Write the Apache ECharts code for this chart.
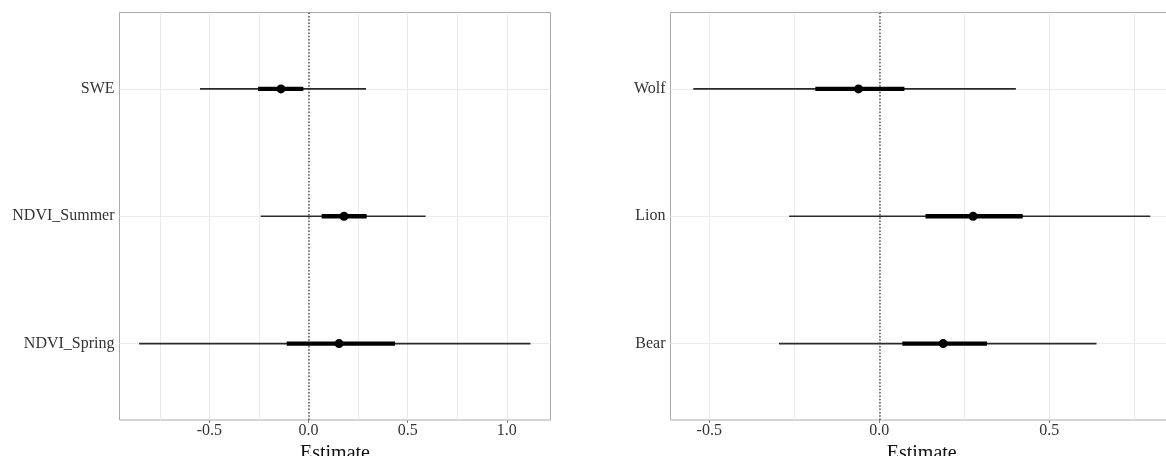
<!DOCTYPE html>
<html>
<head>
<meta charset="utf-8">
<script src="https://cdn.jsdelivr.net/npm/echarts@6/dist/echarts.min.js"></script>
<style>html,body{margin:0;padding:0;background:#fff;}#chart{width:1166px;height:456px;}</style>
</head>
<body>
<div id="chart"></div>
<script>
// Left panel (categories bottom -> top)
const leftCats = ['NDVI_Spring', 'NDVI_Summer', 'SWE'];
const leftEst  = [0.154, 0.179, -0.139];
const leftLo   = [-0.854, -0.241, -0.547];
const leftHi   = [1.119, 0.590, 0.290];
const leftLo50 = [-0.110, 0.066, -0.254];
const leftHi50 = [0.436, 0.293, -0.026];
const leftTicks = [-0.5, 0.0, 0.5, 1.0];
const leftMinor = [-0.75, -0.25, 0.25, 0.75];

// Right panel (categories bottom -> top)
const rightCats = ['Bear', 'Lion', 'Wolf'];
const rightEst  = [0.188, 0.276, -0.061];
const rightLo   = [-0.295, -0.265, -0.547];
const rightHi   = [0.639, 0.797, 0.402];
const rightLo50 = [0.068, 0.136, -0.188];
const rightHi50 = [0.317, 0.422, 0.074];
const rightTicks = [-0.5, 0.0, 0.5];
const rightMinor = [-0.25, 0.25, 0.75];

const FONT = 'Liberation Serif';

function rows(cats, est, lo, hi, lo50, hi50) {
  return cats.map((c, i) => [i + 1, lo[i], hi[i], lo50[i], hi50[i], est[i]]);
}

function renderItem(params, api) {
  const y = api.value(0);
  const a = api.coord([api.value(1), y]);
  const b = api.coord([api.value(2), y]);
  const c = api.coord([api.value(3), y]);
  const d = api.coord([api.value(4), y]);
  const e = api.coord([api.value(5), y]);
  return {
    type: 'group',
    children: [
      { type: 'line', shape: { x1: a[0], y1: a[1], x2: b[0], y2: b[1] },
        style: { stroke: '#2a2a2a', lineWidth: 1.6 } },
      { type: 'line', shape: { x1: c[0], y1: c[1], x2: d[0], y2: d[1] },
        style: { stroke: '#000', lineWidth: 4.3 } },
      { type: 'circle', shape: { cx: e[0], cy: e[1], r: 4.5 },
        style: { fill: '#000' } }
    ]
  };
}

function gridLines(idx, major, minor) {
  const vals = major.concat(minor);
  return {
    type: 'line', xAxisIndex: idx, yAxisIndex: idx, data: [], z: 1, silent: true,
    markLine: {
      silent: true, symbol: ['none', 'none'], animation: false,
      label: { show: false },
      lineStyle: { color: '#ebebeb', width: 1, type: 'solid' },
      data: vals.map(v => ({ xAxis: v })).concat([1, 2, 3].map(v => ({ yAxis: v })))
    }
  };
}

function zeroLine(idx) {
  return {
    type: 'line', xAxisIndex: idx, yAxisIndex: idx, data: [], z: 2, silent: true,
    markLine: {
      silent: true, symbol: ['none', 'none'], animation: false,
      label: { show: false },
      lineStyle: { color: '#555', width: 1.5, type: [1.5, 1.8] },
      data: [{ xAxis: 0 }]
    }
  };
}

function xAxisCfg(idx, min, max, ticks) {
  return {
    type: 'value', gridIndex: idx, min: min, max: max,
    name: 'Estimate', nameLocation: 'middle', nameGap: 16,
    nameTextStyle: { fontFamily: FONT, fontSize: 20, color: '#111' },
    axisLine: { show: false },
    axisTick: { show: true, length: 3, lineStyle: { color: '#888' }, customValues: ticks },
    axisLabel: { customValues: ticks, fontFamily: FONT, fontSize: 16, color: '#333', margin: 3,
      formatter: v => v.toFixed(1) },
    splitLine: { show: false }
  };
}

function yAxisCfg(idx, cats) {
  return {
    type: 'value', gridIndex: idx, min: 0.4, max: 3.6,
    axisLine: { show: false },
    axisTick: { show: true, length: 3, lineStyle: { color: '#888' }, customValues: [1, 2, 3] },
    axisLabel: { customValues: [1, 2, 3], fontFamily: FONT, fontSize: 16, color: '#333', margin: 5,
      formatter: v => cats[Math.round(v) - 1] },
    splitLine: { show: false }
  };
}

const chart = echarts.init(document.getElementById('chart'), null, { renderer: 'canvas' });
chart.setOption({
  animation: false,
  backgroundColor: '#fff',
  grid: [
    { left: 119.5, width: 431, top: 12.5, height: 407.5, show: true, borderColor: '#aaa', borderWidth: 1,
      backgroundColor: 'transparent', containLabel: false, outerBoundsMode: 'none' },
    { left: 670.5, width: 502.5, top: 12.5, height: 407.5, show: true, borderColor: '#aaa', borderWidth: 1,
      backgroundColor: 'transparent', containLabel: false, outerBoundsMode: 'none' }
  ],
  xAxis: [
    xAxisCfg(0, -0.953, 1.220, leftTicks),
    xAxisCfg(1, -0.614, 0.864, rightTicks)
  ],
  yAxis: [
    yAxisCfg(0, leftCats),
    yAxisCfg(1, rightCats)
  ],
  series: [
    gridLines(0, leftTicks, leftMinor),
    gridLines(1, rightTicks, rightMinor),
    zeroLine(0),
    zeroLine(1),
    { type: 'custom', xAxisIndex: 0, yAxisIndex: 0, z: 5, renderItem: renderItem,
      encode: { x: [1, 2, 3, 4, 5], y: 0 },
      data: rows(leftCats, leftEst, leftLo, leftHi, leftLo50, leftHi50) },
    { type: 'custom', xAxisIndex: 1, yAxisIndex: 1, z: 5, renderItem: renderItem,
      encode: { x: [1, 2, 3, 4, 5], y: 0 },
      data: rows(rightCats, rightEst, rightLo, rightHi, rightLo50, rightHi50) }
  ]
});
</script>
</body>
</html>
